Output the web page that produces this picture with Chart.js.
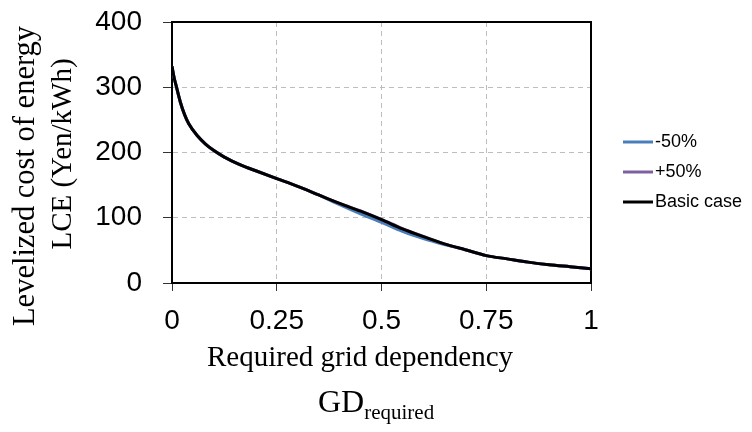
<!DOCTYPE html>
<html>
<head>
<meta charset="utf-8">
<script src="https://cdn.jsdelivr.net/npm/chart.js@4"></script>
<style>
  body { margin: 0; background: #fff; }
  canvas { display: block; }
</style>
</head>
<body>
<canvas id="lceChart" width="752" height="432"></canvas>
<script>
// required grid dependency (x)
const gd = [0, 0.005, 0.01, 0.02, 0.03, 0.04, 0.06, 0.08, 0.1, 0.125, 0.15, 0.175, 0.2,
  0.25, 0.3, 0.35, 0.4, 0.45, 0.5, 0.55, 0.6, 0.65, 0.7, 0.75, 0.8, 0.85, 0.9, 0.95, 1];

// LCE in Yen/kWh for each case
const lceMinus50 = [332, 315, 302, 277, 258, 244, 226, 213, 203, 193, 185, 178, 172,
  160, 148, 135, 120, 106, 93, 79, 68, 59, 51, 42, 37, 32, 28, 25, 22];
const lcePlus50 = [332, 315, 302, 277, 258, 244, 226, 213, 203, 193, 185, 178, 172,
  160, 148, 135, 122, 110.5, 97.5, 83.5, 71.5, 60, 51, 42, 37, 32, 28, 25, 22];
const lceBasic = [332, 315, 302, 277, 258, 244, 226, 213, 203, 193, 185, 178, 172,
  160, 148, 135, 122, 110, 97, 83, 71, 60, 51, 42, 37, 32, 28, 25, 22];

const seriesNames = ["-50%", "+50%", "Basic case"];
const seriesColors = ["#4a7ebb", "#7d60a0", "#000000"];

const yTitle = ["Levelized cost of energy", "LCE (Yen/kWh)"];
const xTitle = "Required grid dependency";
const xSymbol = "GD";
const xSubscript = "required";

const sansFont = '"Liberation Sans", Arial, sans-serif';
const serifFont = '"Liberation Serif", "Times New Roman", serif';

const toPoints = (ys) => ys.map((y, i) => ({ x: gd[i], y: y }));

// frame, axis titles and legend drawn by hand
const decorations = {
  id: "decorations",
  beforeDatasetsDraw(chart) {
    const { ctx, chartArea: a } = chart;
    ctx.save();
    ctx.strokeStyle = "#000";
    ctx.lineWidth = 2;
    ctx.beginPath();
    ctx.moveTo(a.left, a.top);
    ctx.lineTo(a.right, a.top);
    ctx.lineTo(a.right, a.bottom);
    ctx.stroke();
    ctx.restore();
  },
  afterDraw(chart) {
    const ctx = chart.ctx;
    ctx.save();
    ctx.fillStyle = "#000";

    // y title, rotated
    ctx.save();
    ctx.translate(34, 176);
    ctx.rotate(-Math.PI / 2);
    ctx.font = "30.5px " + serifFont;
    ctx.textAlign = "center";
    ctx.textBaseline = "alphabetic";
    ctx.fillText(yTitle[0], 0, 0);
    ctx.restore();
    ctx.save();
    ctx.translate(71, 154);
    ctx.rotate(-Math.PI / 2);
    ctx.font = "29px " + serifFont;
    ctx.textAlign = "center";
    ctx.fillText(yTitle[1], 0, 0);
    ctx.restore();

    // x title with subscript
    ctx.font = "29px " + serifFont;
    ctx.textAlign = "center";
    ctx.textBaseline = "alphabetic";
    ctx.fillText(xTitle, 360, 366);
    ctx.textAlign = "left";
    ctx.font = "32px " + serifFont;
    ctx.fillText(xSymbol, 318, 412);
    const symW = ctx.measureText(xSymbol).width;
    ctx.font = "21px " + serifFont;
    ctx.fillText(xSubscript, 318 + symW, 419);

    // legend
    ctx.font = "18px " + sansFont;
    ctx.textBaseline = "middle";
    chart.data.datasets.forEach((ds, i) => {
      const y = 142 + i * 30;
      ctx.strokeStyle = ds.borderColor;
      ctx.lineWidth = 3;
      ctx.beginPath();
      ctx.moveTo(623, y);
      ctx.lineTo(653, y);
      ctx.stroke();
      ctx.fillStyle = "#000";
      ctx.fillText(ds.label, 655, y);
    });
    ctx.restore();
  }
};

const ctx = document.getElementById("lceChart");
new Chart(ctx, {
  type: "line",
  data: {
    datasets: [lceMinus50, lcePlus50, lceBasic].map((ys, i) => ({
      label: seriesNames[i],
      data: toPoints(ys),
      borderColor: seriesColors[i],
      backgroundColor: seriesColors[i],
      borderWidth: 3,
      pointRadius: 0,
      cubicInterpolationMode: "monotone",
      order: 3 - i,
    })),
  },
  options: {
    responsive: false,
    animation: false,
    layout: { padding: { top: 22, right: 161, left: 0, bottom: 0 } },
    plugins: {
      legend: { display: false },
      tooltip: { enabled: false },
    },
    scales: {
      x: {
        type: "linear",
        min: 0,
        max: 1,
        afterFit: (scale) => {
          scale.height = 149;
          scale.paddingLeft = 0;
          scale.paddingRight = 0;
        },
        ticks: {
          stepSize: 0.25,
          color: "#000",
          padding: 13,
          maxRotation: 0,
          autoSkip: false,
          callback: (v) => String(+v.toFixed(2)),
          font: { family: sansFont, size: 28 },
        },
        grid: { color: "#bdbdbd", tickColor: "#333", tickLength: 8, lineWidth: 1 },
        border: { color: "#000", width: 2, dash: [5, 4] },
      },
      y: {
        min: 0,
        max: 400,
        afterFit: (scale) => {
          scale.width = 172;
          scale.paddingTop = 0;
          scale.paddingBottom = 0;
        },
        ticks: {
          stepSize: 100,
          color: "#000",
          padding: 21,
          font: { family: sansFont, size: 28 },
        },
        grid: { color: "#bdbdbd", tickColor: "#333", tickLength: 9, lineWidth: 1 },
        border: { color: "#000", width: 2, dash: [5, 4] },
      },
    },
  },
  plugins: [decorations],
});
</script>
</body>
</html>
